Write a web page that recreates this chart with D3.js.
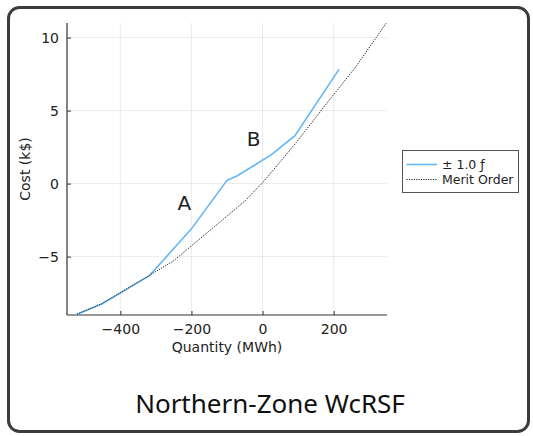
<!DOCTYPE html>
<html><head><meta charset="utf-8">
<script src="https://cdn.jsdelivr.net/npm/d3@7"></script>
<style>html,body{margin:0;padding:0;background:#fff;}svg{display:block;}</style>
</head><body>
<script>
// ---- data ----
const blueX = [-522, -452, -318, -200, -100, -72, 25, 91, 215];
const blueY = [-8.95, -8.25, -6.3, -3.1, 0.22, 0.52, 1.98, 3.28, 7.82];
const meritX = [-522, -452, -318, -251, -101, -50, 2, 91, 200, 264, 348];
const meritY = [-8.95, -8.22, -6.28, -5.3, -2.25, -1.2, 0.11, 2.7, 6.1, 8.05, 11.0];
const xTicks = [-400, -200, 0, 200];
const yTicks = [-5, 0, 5, 10];
const seriesNames = ["\u00b1 1.0 \u0192", "Merit Order"];
const annotations = [{t: "A", x: -220, y: -1.8}, {t: "B", x: -25, y: 2.6}];
const title = "Northern-Zone WcRSF";

const W = 533, H = 436;
const svg = d3.select("body").append("svg").attr("width", W).attr("height", H);

// outer frame
svg.append("rect").attr("x", 8.5).attr("y", 7.5).attr("width", 520).attr("height", 424)
  .attr("rx", 11).attr("fill", "#fff").attr("stroke", "#3c3c3c").attr("stroke-width", 3);

const L = 67, R = 387, T = 23, B = 315;
const x = d3.scaleLinear().domain([-550, 350]).range([L, R]);
const y = d3.scaleLinear().domain([-9, 11]).range([B, T]);

const font = "DejaVu Sans, sans-serif";

// grid
const g = svg.append("g");
g.selectAll(".gx").data(xTicks).join("line")
  .attr("x1", d => x(d)).attr("x2", d => x(d)).attr("y1", T).attr("y2", B)
  .attr("stroke", "#000").attr("stroke-opacity", 0.08).attr("stroke-width", 1);
g.selectAll(".gy").data(yTicks).join("line")
  .attr("x1", L).attr("x2", R).attr("y1", d => y(d)).attr("y2", d => y(d))
  .attr("stroke", "#000").attr("stroke-opacity", 0.08).attr("stroke-width", 1);

// axes
const xAxis = d3.axisBottom(x).tickValues(xTicks).tickSizeInner(-4).tickSizeOuter(0)
  .tickFormat(d => d < 0 ? "\u2212" + Math.abs(d) : d).tickPadding(9);
const yAxis = d3.axisLeft(y).tickValues(yTicks).tickSizeInner(-4).tickSizeOuter(0)
  .tickFormat(d => d < 0 ? "\u2212" + Math.abs(d) : d).tickPadding(8);
const gx = svg.append("g").attr("transform", `translate(0,${B})`).call(xAxis);
const gy = svg.append("g").attr("transform", `translate(${L},0)`).call(yAxis);
[gx, gy].forEach(a => {
  a.select(".domain").attr("stroke", "#333").attr("stroke-width", 1.2);
  a.selectAll(".tick line").attr("stroke", "#333");
  a.selectAll("text").attr("font-family", font).attr("font-size", 14).attr("fill", "#222");
});
gx.select(".domain").attr("d", `M${L},0H${R}`);
gy.select(".domain").attr("d", `M0,${T}V${B}`);

// clip
svg.append("clipPath").attr("id", "clip").append("rect")
  .attr("x", L).attr("y", T).attr("width", R - L).attr("height", B - T);

const line = d3.line().x(d => x(d[0])).y(d => y(d[1]));
const merit = meritX.map((v, i) => [v, meritY[i]]);
const blue = blueX.map((v, i) => [v, blueY[i]]);
const plot = svg.append("g").attr("clip-path", "url(#clip)");
plot.append("path").attr("d", line(blue)).attr("fill", "none")
  .attr("stroke", "#62b8f5").attr("stroke-width", 1.6);
plot.append("path").attr("d", line(merit)).attr("fill", "none")
  .attr("stroke", "#222").attr("stroke-width", 1).attr("stroke-dasharray", "1.2,1.2");

// annotations
svg.selectAll(".ann").data(annotations).join("text")
  .attr("x", d => x(d.x)).attr("y", d => y(d.y)).attr("text-anchor", "middle")
  .attr("font-family", font).attr("font-size", 20).attr("fill", "#222").text(d => d.t);

// axis labels
svg.append("text").attr("x", (L + R) / 2).attr("y", 352).attr("text-anchor", "middle")
  .attr("font-family", font).attr("font-size", 14).attr("fill", "#222").text("Quantity (MWh)");
svg.append("text").attr("transform", `translate(30,${(T + B) / 2}) rotate(-90)`)
  .attr("text-anchor", "middle").attr("font-family", font).attr("font-size", 14)
  .attr("fill", "#222").text("Cost (k$)");

// legend
const lg = svg.append("g");
lg.append("rect").attr("x", 402.5).attr("y", 150.5).attr("width", 116).attr("height", 42)
  .attr("fill", "#fff").attr("stroke", "#555").attr("stroke-width", 1);
const lyPos = [164.5, 179.5];
const styles = [{c: "#62b8f5", w: 1.6, dash: null}, {c: "#222", w: 1, dash: "1.2,1.2"}];
seriesNames.forEach((n, i) => {
  lg.append("line").attr("x1", 406.5).attr("x2", 437).attr("y1", lyPos[i]).attr("y2", lyPos[i])
    .attr("stroke", styles[i].c).attr("stroke-width", styles[i].w)
    .attr("stroke-dasharray", styles[i].dash);
  lg.append("text").attr("x", 442).attr("y", lyPos[i] + 4.5)
    .attr("font-family", font).attr("font-size", 12.5).attr("fill", "#222").text(n);
});

// title
svg.append("text").attr("x", 270).attr("y", 413).attr("text-anchor", "middle")
  .attr("font-family", "Noto Sans, sans-serif").attr("font-size", 26).attr("fill", "#111")
  .text(title);
</script>
</body></html>
